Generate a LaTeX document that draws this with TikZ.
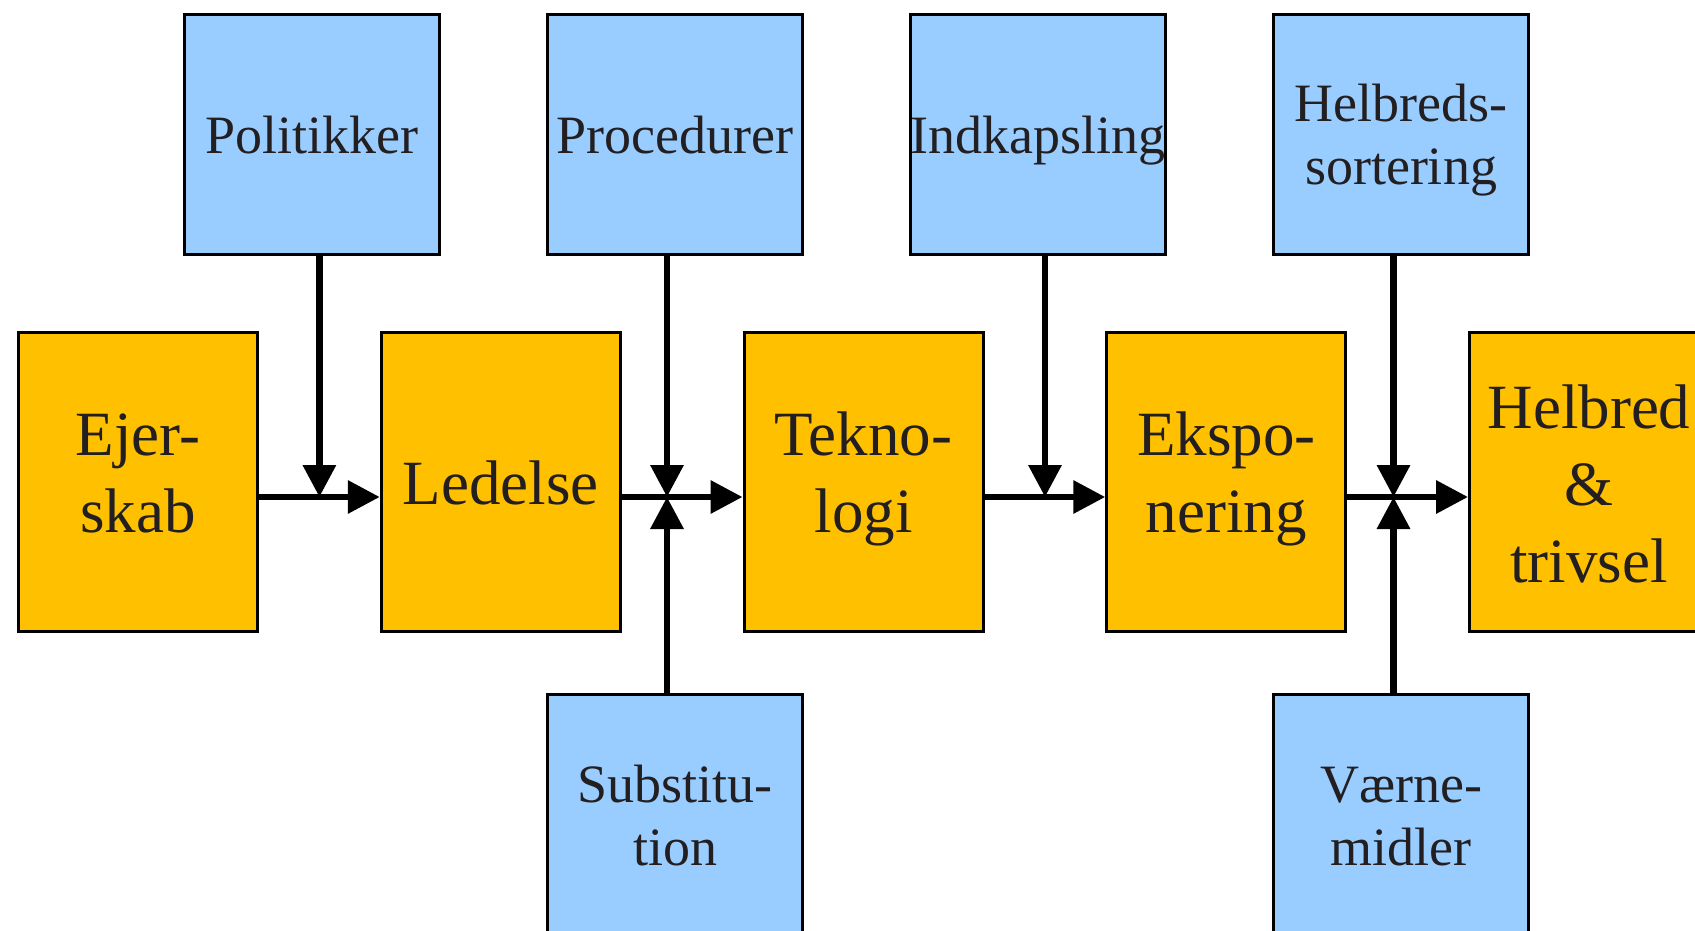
\documentclass[tikz,border=0pt]{standalone}
\usepackage{fontspec}
\setmainfont{Liberation Serif}
\usetikzlibrary{arrows.meta}
\definecolor{obg}{HTML}{FFC000}
\definecolor{bbg}{HTML}{99CCFF}
\definecolor{txt}{HTML}{231F20}
\newcommand\stB{\rule[-12.5pt]{0pt}{63pt}}
\newcommand\stO{\rule[-16pt]{0pt}{77pt}}
\newcommand\stT{\rule[-26.5pt]{0pt}{77pt}}
\newcommand\stH{\rule[-15pt]{0pt}{77pt}}
\begin{document}
\begin{tikzpicture}[x=1pt,y=-1pt,
  box/.style={draw=black, line width=3pt, inner sep=0pt, align=center, text=txt},
  obox/.style={box, fill=obg, minimum width=239pt, minimum height=299pt, font=\fontsize{63}{77}\selectfont},
  bbox/.style={box, fill=bbg, minimum width=255pt, minimum height=240pt, font=\fontsize{54}{63}\selectfont},
  arr/.style={line width=6.5pt, -{Triangle[length=32pt,width=32pt]}}]
\useasboundingbox (0,0) rectangle (1695,931);
\clip (0,0) rectangle (1695,931);
% orange chain
\node[obox] (ejer) at (138,482) {\stT Ejer-\\\stT skab};
\node[obox] (led)  at (500.75,482) {\stO Ledelse};
\node[obox] (tek)  at (863.5,482) {\stT Tekno-\\\stT logi};
\node[obox] (eks)  at (1226.25,482) {\stT Ekspo-\\\stT nering};
\node[obox] (hel)  at (1589,482) {\stH Helbred\\\stH \&\\\stH trivsel};
% blue top
\node[bbox] (pol)  at (312,134.5) {\stB Politikker};
\node[bbox] (proc) at (675,134.5) {\stB Procedurer};
\node[bbox] (ind)  at (1038,134.5) {\stB Indkapsling};
\node[bbox] (hs)   at (1401,134.5) {\stB Helbreds-\\\stB sortering};
% blue bottom
\node[bbox] (sub)  at (675,814.5) {\stB Substitu-\\\stB tion};
\node[bbox] (vm)   at (1401,814.5) {\stB Værne-\\\stB midler};
% junctions
\coordinate (j1) at (319.4,497);
\coordinate (j2) at (667,497);
\coordinate (j3) at (1045,497);
\coordinate (j4) at (1393.5,497);
% connectors
\draw[arr] (ejer.east |- j1) -- (led.west |- j1);
\draw[arr] (pol.south -| j1) -- (j1);
\draw[arr] (led.east |- j2) -- (tek.west |- j2);
\draw[arr] (proc.south -| j2) -- (j2);
\draw[arr] (sub.north -| j2) -- (j2);
\draw[arr] (tek.east |- j3) -- (eks.west |- j3);
\draw[arr] (ind.south -| j3) -- (j3);
\draw[arr] (eks.east |- j4) -- (hel.west |- j4);
\draw[arr] (hs.south -| j4) -- (j4);
\draw[arr] (vm.north -| j4) -- (j4);
\end{tikzpicture}
\end{document}
